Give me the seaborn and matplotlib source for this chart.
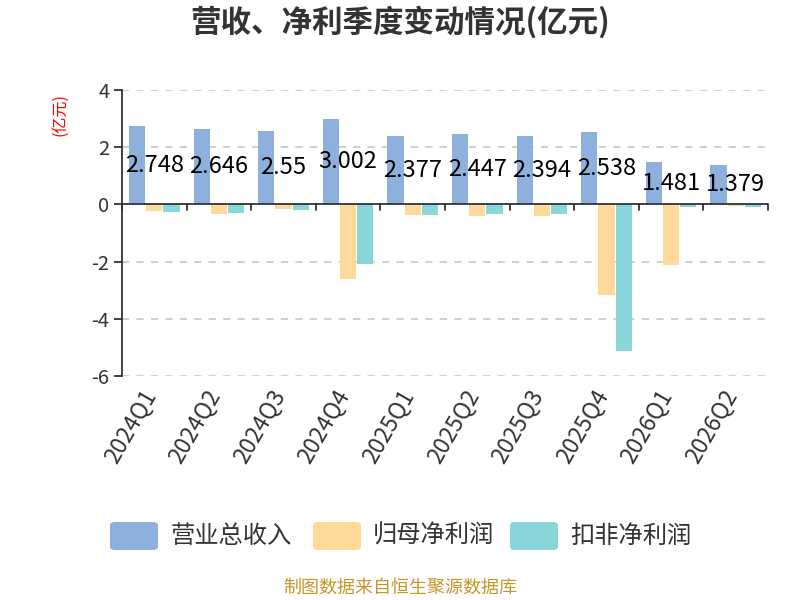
import matplotlib
matplotlib.use("Agg")
import matplotlib.pyplot as plt
import matplotlib.transforms as mtransforms
from matplotlib.patches import FancyBboxPatch
import seaborn as sns
import pandas as pd

quarters = ["2024Q1", "2024Q2", "2024Q3", "2024Q4", "2025Q1", "2025Q2",
            "2025Q3", "2025Q4", "2026Q1", "2026Q2"]
revenue = [2.748, 2.646, 2.55, 3.002, 2.377, 2.447, 2.394, 2.538, 1.481, 1.379]
net_profit = [-0.24, -0.32, -0.17, -2.61, -0.38, -0.40, -0.39, -3.16, -2.13, -0.06]
deducted_profit = [-0.28, -0.30, -0.21, -2.07, -0.36, -0.35, -0.34, -5.11, -0.08, -0.08]
series_names = ["营业总收入", "归母净利润", "扣非净利润"]
colors = ["#8EB0DD", "#FFD999", "#88D6D9"]

sns.set_theme(style="white")
plt.rcParams['font.family'] = ['Noto Sans CJK SC', 'DejaVu Sans']
plt.rcParams['axes.unicode_minus'] = False

rows = []
for i, q in enumerate(quarters):
    rows.append((q, series_names[0], revenue[i]))
    rows.append((q, series_names[1], net_profit[i]))
    rows.append((q, series_names[2], deducted_profit[i]))
df = pd.DataFrame(rows, columns=["quarter", "series", "value"])

fig = plt.figure(figsize=(8, 6), dpi=100)
ax = fig.add_axes([0.1525, 0.3733, 0.8075, 0.4767])

sns.barplot(data=df, x="quarter", y="value", hue="series", order=quarters,
            hue_order=series_names, palette=colors, width=0.8, gap=0.06,
            ax=ax, legend=False, saturation=1, edgecolor="none")

ax.set_ylim(-6, 4)
ax.set_xlim(-0.5, len(quarters) - 0.5)
ax.set_yticks([-6, -4, -2, 0, 2, 4])
ax.set_yticklabels(["-6", "-4", "-2", "0", "2", "4"])
for y in [-6, -4, -2, 2, 4]:
    ax.axhline(y, color="#cccccc", lw=1.3, ls=(0, (4, 4)), zorder=0)
ax.axhline(0, color="#333333", lw=1.3, zorder=3)
for k in range(len(quarters) + 1):
    ax.plot([k - 0.5, k - 0.5], [0, -0.2], color="#333333", lw=1.3,
            zorder=3, clip_on=False)

for s in ["top", "right", "bottom"]:
    ax.spines[s].set_visible(False)
ax.spines["left"].set_color("#333333")
ax.spines["left"].set_linewidth(1.3)
ax.tick_params(axis="y", left=True, length=6, width=1.3, color="#333333",
               labelsize=14.5, labelcolor="#333333", pad=3)
ax.tick_params(axis="x", bottom=False, labelsize=16.5, labelcolor="#333333", pad=5)
ax.set_xlabel("")
ax.set_ylabel("")

offset = mtransforms.ScaledTranslation(-4 / 100, 0, fig.dpi_scale_trans)
for lab in ax.get_xticklabels():
    lab.set_rotation(60)
    lab.set_ha("right")
    lab.set_va("center")
    lab.set_rotation_mode("anchor")
    lab.set_transform(lab.get_transform() + offset)

for i, v in enumerate(revenue):
    ax.text(i, v / 2, f"{v:g}", ha="center", va="center", fontsize=17,
            color="black", zorder=5)

fig.text(0.5, 0.962, "营收、净利季度变动情况(亿元)", ha="center", va="center",
         fontsize=22, fontweight="bold", color="#333333")
fig.text(60 / 800, 1 - 115 / 600, "(亿元)", ha="center", va="center", rotation=90,
         fontsize=11.5, color="red")

# legend
leg_y = 536
items = [(110, series_names[0]), (313, series_names[1]), (510, series_names[2])]
for (x0, name), c in zip(items, colors):
    patch = FancyBboxPatch((x0 / 800, (600 - leg_y - 14) / 600), 48 / 800, 28 / 600,
                           boxstyle="round,pad=0,rounding_size=0.006",
                           transform=fig.transFigure, facecolor=c,
                           edgecolor="none")
    fig.patches.append(patch)
    fig.text((x0 + 60) / 800, (600 - leg_y) / 600, name, ha="left", va="center",
             fontsize=17.5, color="#333333")

fig.text(0.5, (600 - 588) / 600, "制图数据来自恒生聚源数据库", ha="center",
         va="center", fontsize=13, color="#C8962A")

fig.savefig("out.png", dpi=100)
